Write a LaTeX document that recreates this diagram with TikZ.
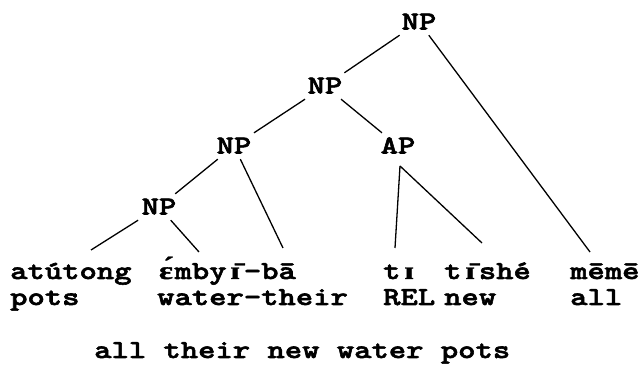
\documentclass[tikz,border=0pt]{standalone}
\usepackage{fontspec}
% bold typewriter face, widened to a 10-pitch look
\newfontfamily\treefont[FakeStretch=1.27,FakeBold=2.2]{lmmonolt10-bold.otf}
% IPA letters that the typewriter face lacks
\newfontfamily\ipafont[FakeStretch=1.3,FakeBold=1.5]{Liberation Serif Bold}
\newlength\cw
\newcommand\ipa[1]{\settowidth\cw{x}\makebox[\cw][c]{\ipafont\fontsize{25}{25}\selectfont #1}}
\begin{document}
\begin{tikzpicture}[x=1pt,y=-1pt,
  every node/.style={font=\treefont\fontsize{26}{26}\selectfont},
  cat/.style={minimum width=44pt,minimum height=26pt,inner sep=0pt,
    text height=15pt,text depth=0pt},
  word/.style={anchor=base west,inner sep=0pt},
  branch/.style={line width=1.3pt,black}]
\useasboundingbox (0,0) rectangle (641,374);

% category labels
\node[cat] (np1) at (419,22)  {NP};
\node[cat] (np2) at (325,86)  {NP};
\node[cat] (np3) at (234,146) {NP};
\node[cat] (ap)  at (398,146) {AP};
\node[cat] (np4) at (159,207) {NP};

% words and glosses
\node[word] (w1) at (10,279)  {atútong};
\node[word] (w2) at (157,279) {\ipa{ɛ́}mby\ipa{ɪ̄}-bā};
\node[word] (w3) at (383,279) {t\ipa{ɪ}};
\node[word] (w4) at (444,279) {t\ipa{ɪ̄}shé};
\node[word] (w5) at (570,279) {mēmē};
\node[word] (g1) at (10,305)  {pots};
\node[word] (g2) at (157,305) {water-their};
\node[word] (g3) at (383,305) {REL};
\node[word] (g4) at (444,305) {new};
\node[word] (g5) at (570,305) {all};
\node[word] (tr) at (94,358)  {all their new water pots};

% attachment points above the words
\coordinate (a1) at (91,250);
\coordinate (e1) at (199,252);
\coordinate (e2) at (283,248);
\coordinate (t1) at (395,248);
\coordinate (t2) at (482,243);
\coordinate (m1) at (590,252);
\coordinate (apx) at (400,166);

% branches
\draw[branch] (np1) -- (np2);
\draw[branch] (np1) -- (m1);
\draw[branch] (np2) -- (np3);
\draw[branch] (np2) -- (ap);
\draw[branch] (np3) -- (np4);
\draw[branch] (np3) -- (e2);
\draw[branch] (np4) -- (a1);
\draw[branch] (np4) -- (e1);
\draw[branch] (apx) -- (t1);
\draw[branch] (apx) -- (t2);
\end{tikzpicture}
\end{document}
